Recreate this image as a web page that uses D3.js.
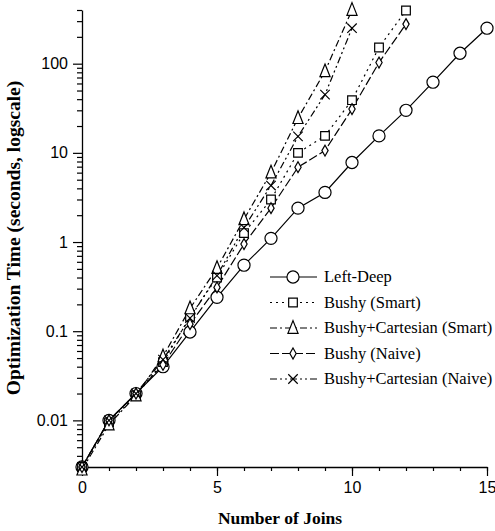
<!DOCTYPE html>
<html>
<head>
<meta charset="utf-8">
<style>
body { margin: 0; background: #fff; }
svg { font-family: "Liberation Serif", "Times New Roman", serif; }
.axis .domain { stroke: #000; stroke-width: 1.3px; }
.axis line { stroke: #000; stroke-width: 1.2px; }
.axis text { font-size: 16px; fill: #000; }
</style>
</head>
<body>
<svg width="495" height="531"></svg>
<script src="https://d3js.org/d3.v7.min.js"></script>
<script>

// values (seconds)
var joins = [0, 1, 2, 3, 4, 5, 6, 7, 8, 9, 10, 11, 12, 13, 14, 15];
var leftDeep   = [0.003, 0.01, 0.02, 0.04, 0.098, 0.24, 0.55, 1.1, 2.4, 3.6, 7.8, 15.5, 30, 62, 131, 250];
var bushySmart = [0.003, 0.0095, 0.019, 0.045, 0.145, 0.40, 1.26, 3.0, 10, 15.5, 39, 152, 395];
var bcSmart    = [0.0028, 0.009, 0.019, 0.052, 0.18, 0.51, 1.8, 6.0, 24.5, 82, 400];
var bushyNaive = [0.003, 0.01, 0.02, 0.042, 0.12, 0.31, 0.95, 2.4, 6.9, 10.6, 31, 103, 278];
var bcNaive    = [0.003, 0.01, 0.02, 0.048, 0.14, 0.42, 1.45, 4.3, 15.3, 45, 250];

var seriesNames = ["Left-Deep", "Bushy (Smart)", "Bushy+Cartesian (Smart)", "Bushy (Naive)", "Bushy+Cartesian (Naive)"];
var xTicks = [0, 5, 10, 15];
var yTicks = [0.01, 0.1, 1, 10, 100];

var series = [
  {name: seriesNames[0], values: leftDeep,   dash: null,          marker: "circle"},
  {name: seriesNames[1], values: bushySmart, dash: "2,4",         marker: "square"},
  {name: seriesNames[2], values: bcSmart,    dash: "7,3,2,3",     marker: "triangle"},
  {name: seriesNames[3], values: bushyNaive, dash: "9,3",         marker: "diamond"},
  {name: seriesNames[4], values: bcNaive,    dash: "7,3,2,3,2,3", marker: "cross"}
];

var svg = d3.select("svg"),
    margin = {top: 10, right: 8, bottom: 64, left: 82},
    width = +svg.attr("width") - margin.left - margin.right,
    height = +svg.attr("height") - margin.top - margin.bottom,
    g = svg.append("g").attr("transform", "translate(" + margin.left + "," + margin.top + ")");

var x = d3.scaleLinear().domain([0, 15]).range([0, width]);
var y = d3.scaleLog().domain([0.003, 400]).range([height, 0]);

// minor ticks: 1..9 per decade inside the domain
var yMinor = [];
[0.001, 0.01, 0.1, 1, 10, 100].forEach(function(d) {
  for (var k = 1; k < 10; k++) {
    var v = +(d * k).toPrecision(3);
    if (v >= 0.003 && v <= 400 && yTicks.indexOf(v) < 0) yMinor.push(v);
  }
});

g.append("g")
    .attr("class", "axis")
    .attr("transform", "translate(0," + height + ")")
    .call(d3.axisBottom(x).tickValues(d3.range(0, 16)).tickSize(4).tickFormat(""))
    .call(function(s) { s.select(".domain").remove(); });

g.append("g")
    .attr("class", "axis")
    .attr("transform", "translate(0," + height + ")")
    .call(d3.axisBottom(x).tickValues(xTicks).tickSize(9).tickSizeOuter(0).tickPadding(6).tickFormat(d3.format("d")));

g.append("g")
    .attr("class", "axis")
    .call(d3.axisLeft(y).tickValues(yMinor).tickSize(5).tickFormat(""))
    .call(function(s) { s.select(".domain").remove(); });

g.append("g")
    .attr("class", "axis")
    .call(d3.axisLeft(y).tickValues(yTicks).tickSize(9).tickSizeOuter(0).tickPadding(5)
      .tickFormat(function(d) { return d >= 1 ? d3.format("d")(d) : String(d); }));

svg.append("text")
    .attr("x", 280)
    .attr("y", 524)
    .attr("text-anchor", "middle")
    .attr("font-weight", "bold")
    .attr("font-size", 17.5)
    .text("Number of Joins");

svg.append("text")
    .attr("transform", "translate(20,238) rotate(-90)")
    .attr("text-anchor", "middle")
    .attr("font-weight", "bold")
    .attr("font-size", 19.5)
    .text("Optimization Time (seconds, logscale)");

// taller open triangle, like the original plot's
var tallTriangle = {
  draw: function(ctx, size) {
    var w = Math.sqrt(size) * 0.55, h = w * 2.5;
    ctx.moveTo(0, -h * 0.58);
    ctx.lineTo(w, h * 0.42);
    ctx.lineTo(-w, h * 0.42);
    ctx.closePath();
  }
};

var symbols = {
  circle: d3.symbol().type(d3.symbolCircle).size(115),
  square: d3.symbol().type(d3.symbolSquare).size(75),
  triangle: d3.symbol().type(tallTriangle).size(85),
  diamond: d3.symbol().type(d3.symbolDiamond).size(34),
  cross: d3.symbol().type(d3.symbolX).size(60)
};

var line = d3.line()
    .x(function(d, i) { return x(joins[i]); })
    .y(function(d) { return y(d); });

function drawMarker(sel, s) {
  sel.attr("d", symbols[s.marker]())
    .attr("fill", s.marker === "cross" ? "none" : "#fff")
    .attr("stroke", "#000")
    .attr("stroke-width", 1.2);
}

series.forEach(function(s) {
  g.append("path")
      .datum(s.values)
      .attr("fill", "none")
      .attr("stroke", "#000")
      .attr("stroke-width", 1.2)
      .attr("stroke-dasharray", s.dash)
      .attr("d", line);
});

series.forEach(function(s) {
  g.append("g").selectAll("path")
      .data(s.values)
      .enter().append("path")
      .attr("transform", function(d, i) { return "translate(" + x(joins[i]) + "," + y(d) + ")"; })
      .call(drawMarker, s);
});

var legend = svg.append("g")
  .selectAll("g")
  .data(series)
  .enter().append("g")
    .attr("transform", function(d, i) { return "translate(270," + (277 + i * 25.5) + ")"; });

legend.append("line")
    .attr("x1", 0).attr("x2", 47)
    .attr("stroke", "#000")
    .attr("stroke-width", 1.2)
    .attr("stroke-dasharray", function(d) { return d.dash; });

legend.append("path")
    .attr("transform", "translate(23,0)")
    .each(function(d) { d3.select(this).call(drawMarker, d); });

legend.append("text")
    .attr("x", 54)
    .attr("dy", "0.33em")
    .attr("font-size", 16.5)
    .text(function(d) { return d.name; });

</script>
</body>
</html>
